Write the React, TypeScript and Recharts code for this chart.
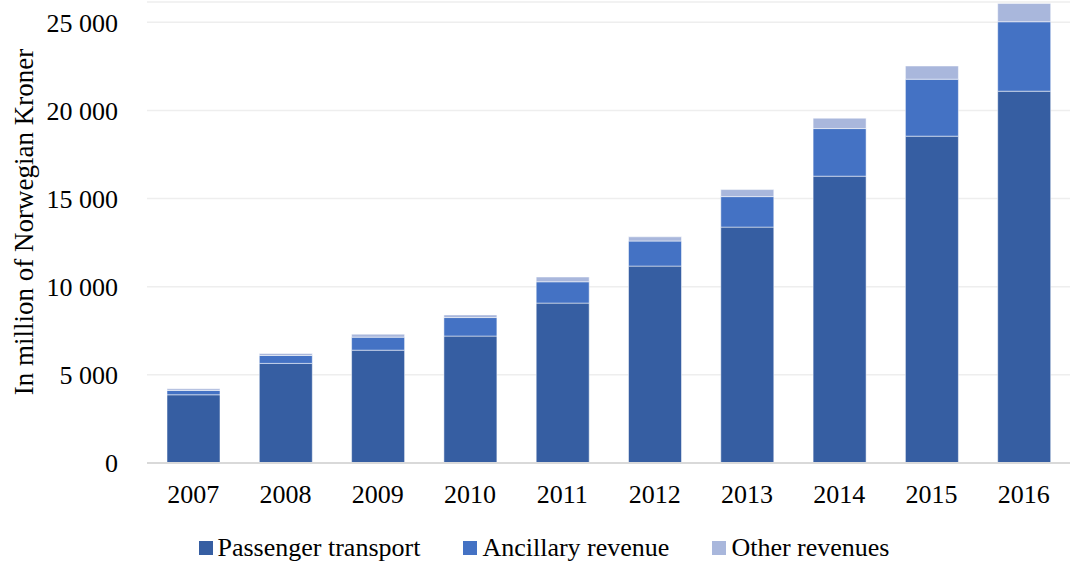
import React from 'react';
import { BarChart, Bar, XAxis, YAxis, CartesianGrid, Legend } from 'recharts';

const years = ['2007', '2008', '2009', '2010', '2011', '2012', '2013', '2014', '2015', '2016'];
const passenger = [3870, 5650, 6400, 7200, 9070, 11170, 13380, 16270, 18540, 21090];
const ancillary = [245, 450, 740, 1050, 1210, 1420, 1730, 2700, 3230, 3940];
const other = [95, 110, 170, 150, 270, 240, 400, 590, 750, 1040];
const yTicks = [0, 5000, 10000, 15000, 20000, 25000];

const series = [
  { key: 'passenger', name: 'Passenger transport', color: '#365EA2' },
  { key: 'ancillary', name: 'Ancillary revenue', color: '#4472C4' },
  { key: 'other', name: 'Other revenues', color: '#A9B7DC' },
];

const data = years.map((year, i) => ({
  year,
  passenger: passenger[i],
  ancillary: ancillary[i],
  other: other[i],
}));

const font = '"Liberation Serif", "Times New Roman", serif';

const fmt = (v: number) => (v === 0 ? '0' : v.toLocaleString('en-US').replace(/,/g, ' '));

function LegendBox() {
  return (
    <div
      style={{
        display: 'flex',
        justifyContent: 'center',
        paddingLeft: 18,
        fontFamily: font,
        fontSize: 26,
        lineHeight: '32px',
        color: '#000',
      }}
    >
      {series.map((s, i) => (
        <div
          key={s.key}
          style={{ display: 'flex', alignItems: 'center', marginRight: i < series.length - 1 ? 43 : 0 }}
        >
          <span style={{ width: 14, height: 14, background: s.color, marginRight: 5, display: 'inline-block' }} />
          <span>{s.name}</span>
        </div>
      ))}
    </div>
  );
}

export default function App() {
  return (
    <div style={{ position: 'absolute', left: 0, top: 0, width: 1070, height: 566, background: '#fff' }}>
      <BarChart width={1070} height={566} data={data} margin={{ top: 2, right: 0, bottom: 53, left: 0 }}>
        <CartesianGrid vertical={false} stroke="#EEEEEE" strokeWidth={1.5} />
        <XAxis
          dataKey="year"
          height={50}
          tickLine={false}
          axisLine={{ stroke: '#D9D9D9', strokeWidth: 2 }}
          tickMargin={16}
          tick={{ fontFamily: font, fontSize: 26, fill: '#000' }}
        />
        <YAxis
          width={147}
          domain={[0, 26150]}
          ticks={yTicks}
          allowDataOverflow
          tickFormatter={fmt}
          axisLine={false}
          tickLine={false}
          tickMargin={23}
          tick={{ fontFamily: font, fontSize: 26, fill: '#000' }}
          label={{
            content: () => (
              <text
                x={24}
                y={222}
                transform="rotate(-90 24 222)"
                textAnchor="middle"
                dominantBaseline="central"
                fontFamily={font}
                fontSize={27}
                fill="#000"
              >
                In million of Norwegian Kroner
              </text>
            ),
          }}
        />
        <Legend
          layout="horizontal"
          verticalAlign="middle"
          align="center"
          wrapperStyle={{ top: 532, left: 0, width: 1070 }}
          content={() => <LegendBox />}
        />
        {series.map((s) => (
          <Bar
            key={s.key}
            dataKey={s.key}
            name={s.name}
            stackId="rev"
            fill={s.color}
            barSize={53}
            stroke="#ffffff"
            strokeOpacity={0.5}
            strokeWidth={1}
            isAnimationActive={false}
          />
        ))}
      </BarChart>
    </div>
  );
}
